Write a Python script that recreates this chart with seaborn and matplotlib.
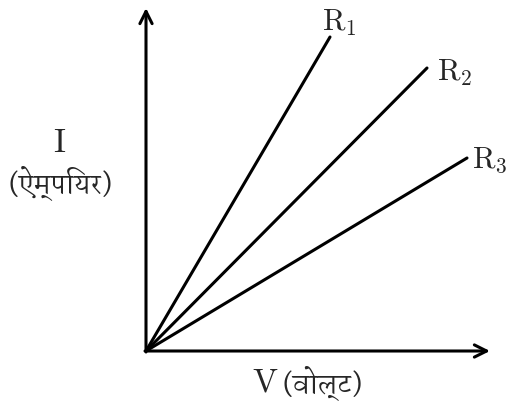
import matplotlib
matplotlib.use("Agg")
import numpy as np
import pandas as pd
import seaborn as sns
import matplotlib.pyplot as plt

# end points of the three straight lines (all start at the origin)
resistors = ["R1", "R2", "R3"]
v_end = [184, 281, 321]
i_end = [314, 283, 193]
res_labels = [r"$\mathrm{R}_1$", r"$\mathrm{R}_2$", r"$\mathrm{R}_3$"]

x_label_sym = r"$\mathrm{V}$"
x_label_unit = "(वोल्ट)"
y_label_sym = r"$\mathrm{I}$"
y_label_unit = "(ऐम्पियर)"

## one row per line end, origin rows added so seaborn draws each segment
rows = []
for r, v, i in zip(resistors, v_end, i_end):
    rows.append({"R": r, "V": 0, "I": 0})
    rows.append({"R": r, "V": v, "I": i})
df = pd.DataFrame(rows)

sns.set_style("white")
plt.rcParams["mathtext.fontset"] = "cm"
deva = ["Martel", "Noto Serif Devanagari", "Noto Sans Devanagari", "DejaVu Serif"]

fig = plt.figure(figsize=(5.09, 4.05), dpi=100)
ax = fig.add_axes([146 / 509, 54 / 405, 344 / 509, 343 / 405])

sns.lineplot(data=df, x="V", y="I", hue="R", palette=["black"] * 3,
             linewidth=2.2, legend=False, ax=ax, sort=False)

ax.set_xlim(0, 344)
ax.set_ylim(0, 343)
ax.axis("off")

## the two axis arrows
ax.annotate("", xy=(344, 0), xytext=(-1, 0),
            arrowprops=dict(arrowstyle="->", lw=2.2, color="black",
                            mutation_scale=22, shrinkA=0, shrinkB=0))
ax.annotate("", xy=(0, 343), xytext=(0, -1),
            arrowprops=dict(arrowstyle="->", lw=2.2, color="black",
                            mutation_scale=22, shrinkA=0, shrinkB=0))

## label offsets from the line ends (pixels == data units here)
label_dx = [-8, 10, 5]
label_dy = [6, -13, -10]
for lab, v, i, dx, dy in zip(res_labels, v_end, i_end, label_dx, label_dy):
    ax.text(v + dx, i + dy, lab, fontsize=22, ha="left", va="baseline")

fig.text(60 / 509, 1 - 152 / 405, y_label_sym, fontsize=24,
         ha="center", va="baseline")
fig.text(60 / 509, 1 - 183 / 405, y_label_unit, fontsize=19,
         ha="center", va="center", family=deva)
fig.text(252 / 509, 1 - 392 / 405, x_label_sym, fontsize=24,
         ha="left", va="baseline")
fig.text(282 / 509, 1 - 392 / 405, x_label_unit, fontsize=19,
         ha="left", va="baseline", family=deva)

fig.savefig("out.png", dpi=100)
